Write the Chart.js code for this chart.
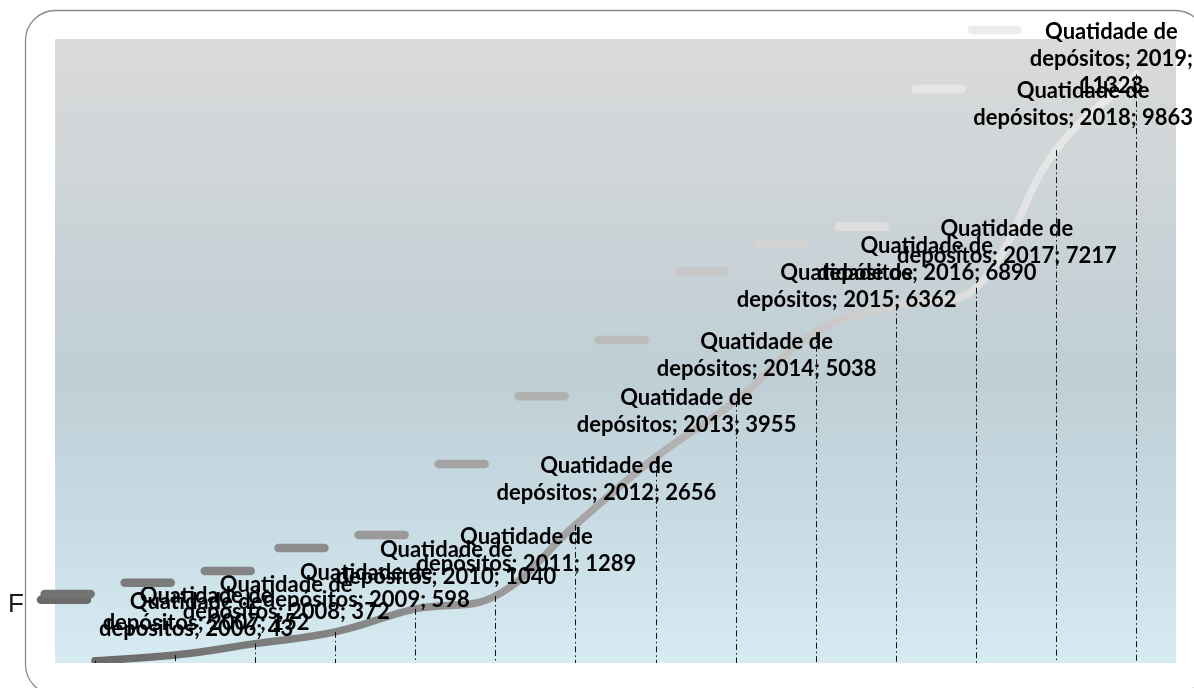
<!DOCTYPE html>
<html>
<head>
<meta charset="utf-8">
<script src="https://cdn.jsdelivr.net/npm/chart.js@4.4.1/dist/chart.umd.min.js"></script>
<style>
  html, body { margin: 0; padding: 0; background: #fff; }
  canvas { display: block; }
</style>
</head>
<body>
<canvas id="chart" width="1194" height="688"></canvas>
<script>
// ===== dados =====
const anos      = ['2006', '2007', '2008', '2009', '2010', '2011', '2012',
                   '2013', '2014', '2015', '2016', '2017', '2018', '2019'];
const depositos = [43, 152, 372, 598, 1040, 1289, 2656, 3955, 5038, 6362, 6890, 7217, 9863, 11323];
const serieNome = 'Quatidade de depósitos';
const eixoMin   = 0;
const eixoMax   = 12000;

// gray ramp (position 0..1 along the series -> gray level)
const rampa = [[0, 106], [0.3, 140], [0.5, 170], [0.7, 200], [0.85, 224], [1, 236]];

function cinza(t) {
  for (let i = 1; i < rampa.length; i++) {
    if (t <= rampa[i][0]) {
      const [t0, v0] = rampa[i - 1];
      const [t1, v1] = rampa[i];
      const v = Math.round(v0 + (v1 - v0) * (t - t0) / (t1 - t0));
      return `rgb(${v},${v},${v})`;
    }
  }
  const v = rampa[rampa.length - 1][1];
  return `rgb(${v},${v},${v})`;
}

const FONTE     = 'bold 22px Lato';
const LINHA_H   = 27;
const CHAVE_W   = 54;
const CHAVE_GAP = 8;

function quebrar(ctx, texto, maxW) {
  const palavras = texto.split(' ');
  const linhas = [];
  let atual = '';
  palavras.forEach(function(p) {
    const teste = atual ? atual + ' ' + p : p;
    if (atual && ctx.measureText(teste).width > maxW) {
      linhas.push(atual);
      atual = p;
    } else {
      atual = teste;
    }
  });
  if (atual) linhas.push(atual);
  return linhas;
}

const decorPlugin = {
  id: 'decor',
  beforeDraw(chart) {
    const { ctx, chartArea: a } = chart;
    ctx.save();
    ctx.fillStyle = '#fff';
    ctx.fillRect(0, 0, chart.width, chart.height);

    // moldura arredondada
    ctx.beginPath();
    ctx.roundRect(25.5, 10.5, 1180, 684, 30);
    ctx.strokeStyle = '#8c8c8c';
    ctx.lineWidth = 1.3;
    ctx.stroke();

    // fundo da área de plotagem
    const g = ctx.createLinearGradient(0, a.top, 0, a.bottom);
    g.addColorStop(0,    '#dadada');
    g.addColorStop(0.3,  '#cbd3d7');
    g.addColorStop(0.55, '#bfcfd6');
    g.addColorStop(0.8,  '#c9dde5');
    g.addColorStop(1,    '#d7ebf3');
    ctx.fillStyle = g;
    ctx.fillRect(a.left, a.top, a.right - a.left, a.bottom - a.top);

    ctx.font = '26px "Liberation Sans"';
    ctx.fillStyle = '#1a1a1a';
    ctx.textBaseline = 'middle';
    ctx.fillText('F', 8, 605);
    ctx.restore();
  },
  afterDatasetsDraw(chart) {
    const { ctx, chartArea: a } = chart;
    const pts = chart.getDatasetMeta(0).data;
    const n = pts.length;

    ctx.save();
    ctx.font = FONTE;
    ctx.textBaseline = 'middle';
    ctx.textAlign = 'center';
    const wrapW = ctx.measureText('depósitos; 2000; 0000').width + 4;

    // rótulos com chave de legenda
    pts.forEach(function(p, i) {
      const linhas = quebrar(ctx, `${serieNome}; ${anos[i]}; ${depositos[i]}`, wrapW);
      const textoW = Math.max.apply(null, linhas.map(function(l) { return ctx.measureText(l).width; }));
      const blocoW = CHAVE_W + CHAVE_GAP + textoW;
      let left = p.x - blocoW / 2;
      if (left < 37) left = 37;
      if (left + blocoW > 1193) left = 1193 - blocoW;
      let y1 = p.y - 32 - (linhas.length - 1) * LINHA_H;
      if (y1 < 32) y1 = 32;

      ctx.beginPath();
      ctx.moveTo(left + 4, y1 - 2);
      ctx.lineTo(left + CHAVE_W - 4, y1 - 2);
      ctx.strokeStyle = cinza(i / (n - 1));
      ctx.lineWidth = 8.5;
      ctx.lineCap = 'round';
      ctx.stroke();

      ctx.fillStyle = '#000';
      const cx = left + CHAVE_W + CHAVE_GAP + textoW / 2;
      linhas.forEach(function(l, k) {
        ctx.fillText(l, cx, y1 + k * LINHA_H);
      });
    });

    // linhas de projeção
    ctx.strokeStyle = '#111';
    ctx.lineWidth = 1;
    ctx.lineCap = 'butt';
    ctx.setLineDash([6, 3, 1.5, 3]);
    pts.forEach(function(p) {
      ctx.beginPath();
      ctx.moveTo(Math.round(p.x) + 0.5, p.y);
      ctx.lineTo(Math.round(p.x) + 0.5, a.bottom);
      ctx.stroke();
    });
    ctx.restore();
  }
};

const ctx = document.getElementById('chart').getContext('2d');
const chart = new Chart(ctx, {
  type: 'line',
  data: {
    labels: anos,
    datasets: [{
      label: serieNome,
      data: depositos,
      borderColor: function(c) {
        const ch = c.chart;
        if (!ch.chartArea) return '#999';
        const xs = ch.scales.x;
        const x0 = xs.getPixelForValue(0);
        const x1 = xs.getPixelForValue(anos.length - 1);
        const g = ch.ctx.createLinearGradient(x0, 0, x1, 0);
        rampa.forEach(function(r) { g.addColorStop(r[0], cinza(r[0])); });
        return g;
      },
      borderWidth: 7.5,
      borderCapStyle: 'round',
      borderJoinStyle: 'round',
      tension: 0.4,
      pointRadius: 0,
      fill: false,
    }]
  },
  options: {
    responsive: false,
    animation: false,
    devicePixelRatio: 1,
    layout: { padding: { left: 55, right: 18, top: 39, bottom: 25 } },
    plugins: {
      legend: { display: false },
      tooltip: { enabled: false }
    },
    scales: {
      x: { display: false, offset: true },
      y: { display: false, min: eixoMin, max: eixoMax }
    }
  },
  plugins: [decorPlugin]
});
</script>
</body>
</html>
